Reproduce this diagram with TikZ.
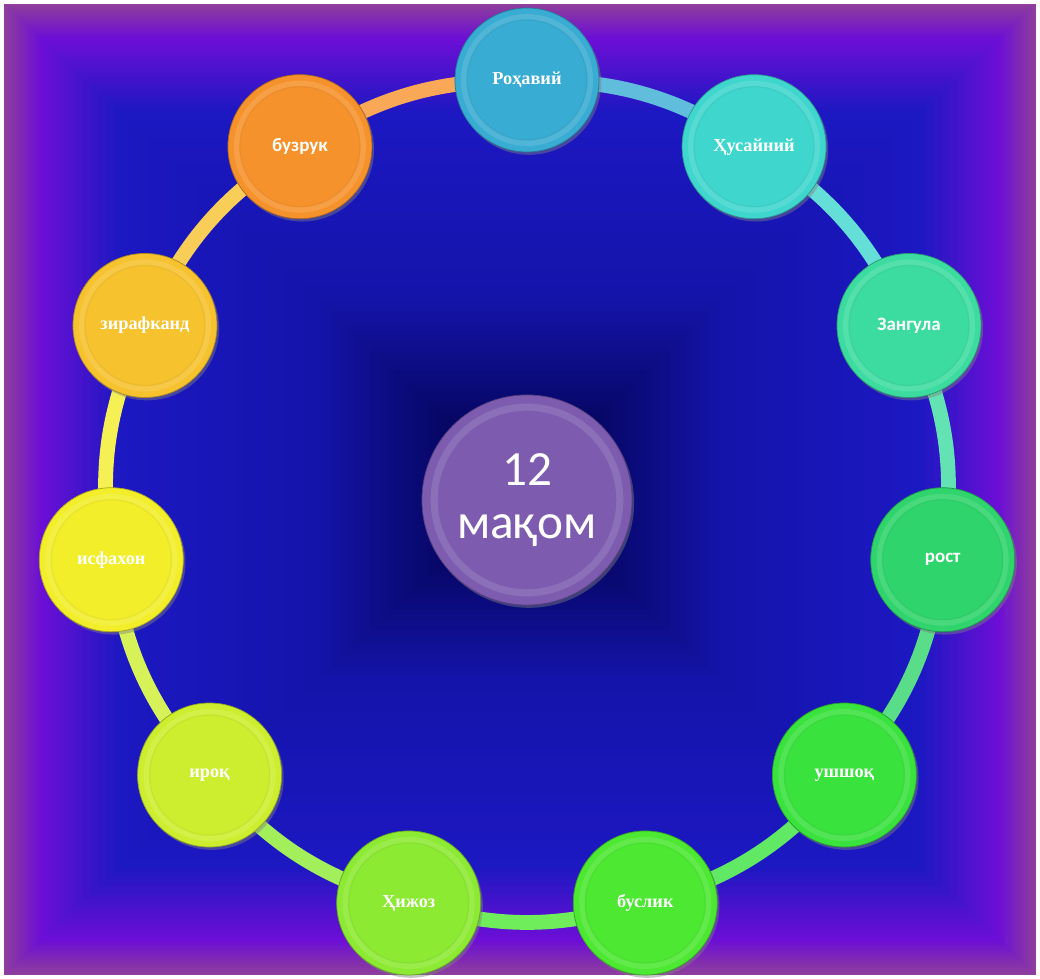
\documentclass[tikz,border=0pt]{standalone}
\usepackage{fontspec}
\setmainfont{Liberation Serif}
\newfontfamily\carlito{Carlito}
\usepackage{xcolor}
\usepackage{tikz}
\usetikzlibrary{positioning,shadows}

\pgfdeclarelayer{backdrop}
\pgfdeclarelayer{ringlayer}
\pgfsetlayers{backdrop,ringlayer,main}

\definecolor{rohavi}{HTML}{38ACD2}
\definecolor{husayni}{HTML}{3FD6CE}
\definecolor{zangula}{HTML}{3CDCA0}
\definecolor{rost}{HTML}{2FD46C}
\definecolor{ushshoq}{HTML}{3AE23E}
\definecolor{buslik}{HTML}{4CE832}
\definecolor{hijoz}{HTML}{8CEA32}
\definecolor{iroq}{HTML}{CDEE2E}
\definecolor{isfahon}{HTML}{F2EE2A}
\definecolor{zirafkand}{HTML}{F6C22E}
\definecolor{buzruk}{HTML}{F6922C}
\definecolor{hubc}{HTML}{7D5CB0}
\definecolor{bgA}{HTML}{8E3E9C}
\definecolor{bgB}{HTML}{6C0ED6}
\definecolor{bgC}{HTML}{1C18C2}
\definecolor{bgD}{HTML}{1414AA}
\definecolor{bgE}{HTML}{08086E}
\definecolor{bgF}{HTML}{00003A}

\begin{document}
\begin{tikzpicture}[x=0.025cm, y=0.025cm,
    petal/.style={circle, minimum size=3.6cm, inner sep=0pt, fill=#1,
      draw=#1!70!black, line width=0.5pt,
      drop shadow={shadow xshift=1.5pt, shadow yshift=-2pt, opacity=0.45},
      path picture={\draw[#1!60!white, line width=4pt, opacity=0.3]
        (path picture bounding box.center) circle (1.58cm);
        \draw[#1!80!black, line width=1pt, opacity=0.2]
        (path picture bounding box.center) circle (1.5cm);},
      text=white, font=\bfseries\fontsize{13}{15}\selectfont},
    sanslbl/.style={font=\carlito\bfseries\fontsize{13.5}{16}\selectfont},
    hub/.style={petal=#1, minimum size=5.25cm, align=center,
      font=\carlito\fontsize{35}{38}\selectfont,
      path picture={\draw[#1!60!white, line width=5pt, opacity=0.3]
        (path picture bounding box.center) circle (2.32cm);}},
    band/.style={line width=10.5pt, draw=#1!80!white},
  ]
    \useasboundingbox (0,0) rectangle (1040,979);
    \coordinate (c) at (527,479);

    % Nodes
    \node[hub=hubc] (hub) at (c) {12\\мақом};
    \node[petal=rohavi] (rohavi) at ([shift={(90:420)}]c) {Роҳавий};
    \node[petal=husayni] (husayni) at ([shift={(57.27:420)}]c) {Ҳусайний};
    \node[petal=zangula, sanslbl] (zangula) at ([shift={(24.55:420)}]c) {Зангула};
    \node[petal=rost, sanslbl] (rost) at ([shift={(-8.18:420)}]c) {рост};
    \node[petal=ushshoq] (ushshoq) at ([shift={(-40.91:420)}]c) {ушшоқ};
    \node[petal=buslik] (buslik) at ([shift={(-73.64:420)}]c) {буслик};
    \node[petal=hijoz] (hijoz) at ([shift={(-106.36:420)}]c) {Ҳижоз};
    \node[petal=iroq] (iroq) at ([shift={(-139.09:420)}]c) {ироқ};
    \node[petal=isfahon] (isfahon) at ([shift={(-171.82:420)}]c) {исфахон};
    \node[petal=zirafkand] (zirafkand) at ([shift={(155.45:420)}]c) {зирафканд};
    \node[petal=buzruk, sanslbl] (buzruk) at ([shift={(122.73:420)}]c) {бузрук};

    % Ring
    \begin{pgfonlayer}{ringlayer}
      \draw[band=rohavi] (rohavi.center) to[bend left=16.36] (husayni.center);
      \draw[band=husayni] (husayni.center) to[bend left=16.36] (zangula.center);
      \draw[band=zangula] (zangula.center) to[bend left=16.36] (rost.center);
      \draw[band=rost] (rost.center) to[bend left=16.36] (ushshoq.center);
      \draw[band=ushshoq] (ushshoq.center) to[bend left=16.36] (buslik.center);
      \draw[band=buslik] (buslik.center) to[bend left=16.36] (hijoz.center);
      \draw[band=hijoz] (hijoz.center) to[bend left=16.36] (iroq.center);
      \draw[band=iroq] (iroq.center) to[bend left=16.36] (isfahon.center);
      \draw[band=isfahon] (isfahon.center) to[bend left=16.36] (zirafkand.center);
      \draw[band=zirafkand] (zirafkand.center) to[bend left=16.36] (buzruk.center);
      \draw[band=buzruk] (buzruk.center) to[bend left=16.36] (rohavi.center);
    \end{pgfonlayer}

    % Background
    \begin{pgfonlayer}{backdrop}
      \fill[white] (0,0) rectangle (1040,979);
      \foreach \ca/\cb/\ta/\tb in {bgA/bgB/0/7, bgB/bgC/7/22, bgC/bgD/22/60,
                                   bgD/bgE/60/82, bgE/bgF/82/100}
        \foreach \k in {0,...,19} {
          \pgfmathsetmacro\t{\ta+(\tb-\ta)*\k/20}
          \pgfmathtruncatemacro\pc{100-100*\k/20}
          \fill[\ca!\pc!\cb] (4+5.16*\t, 4+4.855*\t) rectangle (1036-5.16*\t, 975-4.855*\t);
        }
    \end{pgfonlayer}
\end{tikzpicture}
\end{document}
